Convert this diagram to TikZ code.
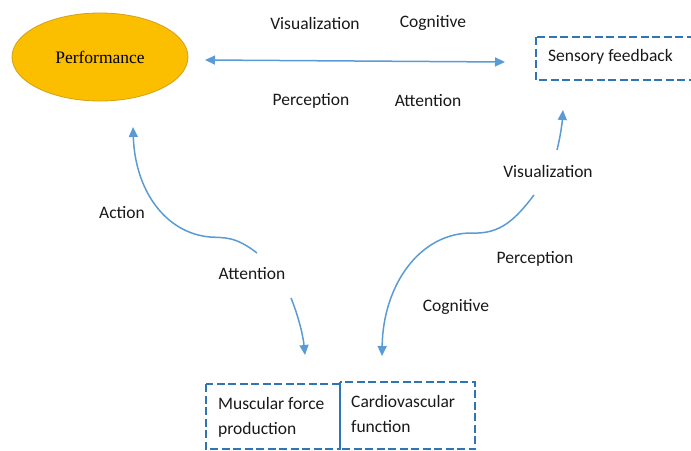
\documentclass[tikz,border=0pt]{standalone}
\usepackage{fontspec}
\setmainfont{Carlito}
\newfontfamily\serifperf{Liberation Serif}
\usetikzlibrary{arrows.meta,shapes.geometric}
\definecolor{arrowblue}{HTML}{5B9BD5}
\definecolor{dashblue}{HTML}{2E75B6}
\definecolor{perfyellow}{HTML}{FBBF00}
\definecolor{perfedge}{HTML}{D4A017}
\tikzset{
  lbl/.style={font=\fontsize{17.5}{21}\selectfont, text=black!90, inner sep=0pt},
  conn/.style={draw=arrowblue, line width=1.5pt, -{Triangle[length=10pt,width=9pt]}},
  dbox/.style={draw=dashblue, line width=2.8pt, dash pattern=on 8pt off 3.5pt},
}
\begin{document}
\begin{tikzpicture}[x=1pt,y=-1pt]
\useasboundingbox (0,0) rectangle (691,450);
% Performance ellipse
\node[ellipse, fill=perfyellow, draw=perfedge, line width=0.8pt, minimum width=176pt, minimum height=88pt, font=\serifperf\fontsize{17.5}{21}\selectfont] (perf) at (100,57) {Performance};
% Sensory feedback box
\draw[dbox] (536,37) rectangle (693,80);
\node[lbl, anchor=west] (sens) at (548,57) {Sensory feedback};
% bottom boxes
\draw[dbox] (206,384) rectangle (340,449);
\draw[dbox] (340,382) rectangle (475,449);
\node[lbl, align=left, anchor=north west, font=\fontsize{17.5}{25}\selectfont] (musc) at (218,397) {Muscular force\\production};
\node[lbl, align=left, anchor=north west, font=\fontsize{17.5}{25}\selectfont] (card) at (351,395) {Cardiovascular\\function};
% labels
\node[lbl] (v1) at (315,23) {Visualization};
\node[lbl] (c1) at (433,23) {Cognitive};
\node[lbl] (p1) at (311,101) {Perception};
\node[lbl] (a1) at (428,101) {Attention};
\node[lbl] (act) at (122,213) {Action};
\node[lbl] (att2) at (252,274) {Attention};
\node[lbl] (v2) at (548,171) {Visualization};
\node[lbl] (p2) at (535,259) {Perception};
\node[lbl] (c2) at (456,307) {Cognitive};
% coordinates
\coordinate (hl) at (205,60);
\coordinate (hr) at (505,62);
\coordinate (s1) at (257,253);
\coordinate (t1) at (133,127);
\coordinate (s2) at (291,298);
\coordinate (t2) at (305,355);
\coordinate (s3) at (557,150);
\coordinate (t3) at (563,110);
\coordinate (s4) at (534,195);
\coordinate (t4) at (382,356);
% connectors
\draw[conn, {Triangle[length=10pt,width=9pt]}-{Triangle[length=10pt,width=9pt]}] (hl) -- (hr);
\draw[conn] (s1) .. controls (235,236) and (225,238) .. (210,237)
            .. controls (165,233) and (135,190) .. (t1);
\draw[conn] (s2) .. controls (298,315) and (303,335) .. (t2);
\draw[conn] (s3) .. controls (560,138) and (562,125) .. (t3);
\draw[conn] (s4) .. controls (515,220) and (500,234) .. (473,233)
            .. controls (420,232) and (383,285) .. (t4);
\end{tikzpicture}
\end{document}
